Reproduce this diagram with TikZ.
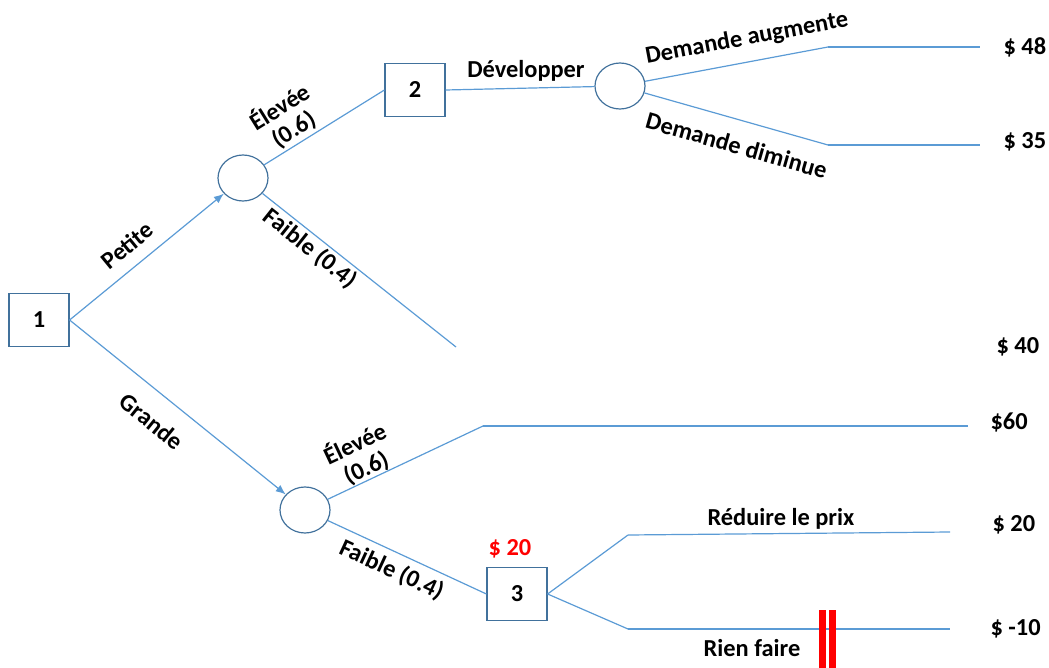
\documentclass[tikz,border=0pt]{standalone}
\usepackage{fontspec}
\setmainfont{Carlito}
\usetikzlibrary{shapes.geometric,arrows.meta}
\definecolor{branchblue}{RGB}{91,155,213}
\definecolor{boxblue}{RGB}{65,113,156}
\definecolor{cutred}{RGB}{255,0,0}

\begin{document}
\begin{tikzpicture}[x=0.5pt,y=-0.5pt,>={Latex[length=5pt,width=4pt]},line width=0.6pt,
  font=\fontsize{12.2}{13}\selectfont\bfseries]
\tikzstyle{decision}=[draw=boxblue,rectangle,minimum width=30pt,minimum height=26.5pt,inner sep=0pt]
\tikzstyle{chance}=[draw=boxblue,ellipse,minimum width=25pt,minimum height=23pt,inner sep=0pt]
\tikzstyle{every edge}=[draw=branchblue]
\tikzstyle{payoff}=[anchor=west,inner sep=0pt]
\useasboundingbox (0,0) rectangle (1049,668);
% noeuds
\node[decision] (N1) at (39,320) {1};
\node[chance] (A) at (243,178) {};
\node[decision] (N2) at (415,90) {2};
\node[chance] (B) at (620,86) {};
\node[chance] (C) at (305,510) {};
\node[decision,label={[text=cutred,xshift=-3.5pt,yshift=1pt]above:\$ 20}] (N3) at (517,594) {3};
% coins des branches
\coordinate (up) at (828,47);
\coordinate (upend) at (980,47);
\coordinate (dn) at (828,145);
\coordinate (dnend) at (980,145);
\coordinate (fend) at (456,347);
\coordinate (hi) at (483,426);
\coordinate (hiend) at (968,426);
\coordinate (rp) at (628,535);
\coordinate (rpend) at (950,532);
\coordinate (rf) at (628,629);
\coordinate (rfend) at (950,629);
% gains
\node[payoff] (g48) at (1003,47) {\$ 48};
\node[payoff] (g35) at (1003,142) {\$ 35};
\node[payoff] (g40) at (996,347) {\$ 40};
\node[payoff] (g60) at (990,422) {\$60};
\node[payoff] (g20) at (992,525) {\$ 20};
\node[payoff] (g10) at (990,629) {\$ -10};
% branches
\path (N1.east) edge[->] node[pos=0.46,sloped,above,inner sep=6pt]{Petite} (A)
      (N1.east) edge[->] node[pos=0.46,sloped,below,inner sep=9pt]{Grande} (C);
\path (A) edge node[pos=0.31,sloped,above,align=center,inner sep=1pt]{Élevée\\(0.6)} (N2.west)
      (A) edge node[pos=0.29,sloped,below,inner sep=1pt]{Faible (0.4)} (fend)
      (N2.east) edge node[pos=0.54,above]{Développer} (B)
      (B) edge node[pos=0.58,sloped,above,inner sep=6pt]{Demande augmente} (up)
      (up) edge (upend)
      (B) edge node[pos=0.54,sloped,below,inner sep=8pt]{Demande diminue} (dn)
      (dn) edge (dnend);
\path (C) edge node[pos=0.28,sloped,above,align=center,inner sep=0pt]{Élevée\\(0.6)} (hi)
      (hi) edge (hiend)
      (C) edge node[pos=0.45,sloped,below]{Faible (0.4)} (N3.west)
      (N3.east) edge (rp)
      (rp) edge node[pos=0.475,above,inner sep=2pt]{Réduire le prix} (rpend)
      (N3.east) edge (rf)
      (rf) edge node[pos=0.385,below,inner sep=5pt]{Rien faire} (rfend);
% branche coupee
\fill[cutred] (819,610) rectangle (826,668);
\fill[cutred] (829,610) rectangle (836,668);
\end{tikzpicture}
\end{document}
